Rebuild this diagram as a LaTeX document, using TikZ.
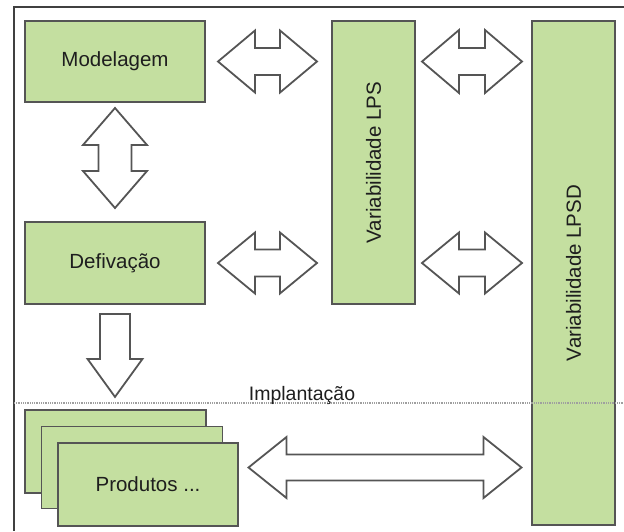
\documentclass[tikz,border=0pt]{standalone}
\usepackage{fontspec}
\setmainfont{Liberation Sans}
\usetikzlibrary{calc}

\definecolor{boxfill}{RGB}{196,223,160}
\definecolor{boxline}{RGB}{85,85,85}
\definecolor{framecol}{RGB}{64,64,64}
\definecolor{txt}{RGB}{30,30,30}

% Symmetric block double arrow: #1 centre, #2 rotation, #3 half length,
% #4 half height, #5 half shaft thickness, #6 head length
\newcommand\dblarrow[6]{%
  \begin{scope}[shift={(#1)}, rotate=#2]
    \draw[blockarrow] (-#3,0) -- (-#3+#6,#4) -- (-#3+#6,#5) -- (#3-#6,#5)
      -- (#3-#6,#4) -- (#3,0) -- (#3-#6,-#4) -- (#3-#6,-#5)
      -- (-#3+#6,-#5) -- (-#3+#6,-#4) -- cycle;
  \end{scope}}

\tikzset{
  label text/.style={inner sep=0pt, text=txt, font=\fontsize{20.5}{24}\selectfont},
  greenbox/.style={label text, draw=boxline, fill=boxfill, line width=1.8pt},
  blockarrow/.style={draw=boxline, fill=white, line width=1.8pt, line join=miter},
  framestyle/.style={draw=framecol, line width=2.4pt},
  divider/.style={draw=gray!75, line width=1.3pt, dash pattern=on 0.9pt off 0.9pt},
}

\begin{document}
\begin{tikzpicture}[x=1pt, y=-1pt]
  \useasboundingbox (0,0) rectangle (624,531);

  % outer frame
  \coordinate (ftr) at (624,7);
  \coordinate (ftl) at (14,7);
  \coordinate (fbl) at (14,531);
  \draw[framestyle] (ftr) -- (ftl) -- (fbl);

  % process boxes
  \node[greenbox, minimum width=180, minimum height=81] (mod) at (115,61.5) {Modelagem};
  \node[greenbox, minimum width=180, minimum height=82] (der) at (115,263) {Defivação};

  % variability columns
  \node[greenbox, minimum width=83, minimum height=283] (lps) at (373.5,162.5) {};
  \node[label text, rotate=90] (lpstext) at (lps.center) {Variabilidade LPS};
  \node[greenbox, minimum width=83, minimum height=504] (lpsd) at (573.5,273) {};
  \node[label text, rotate=90] (lpsdtext) at (lpsd.center) {Variabilidade LPSD};

  % stacked products
  \node[greenbox, minimum width=181, minimum height=83] (prod1) at (115.5,451.5) {};
  \node[greenbox, minimum width=181, minimum height=82] (prod2) at (132,467.5) {};
  \node[greenbox, minimum width=180, minimum height=83] (prod3) at (148,484.5) {Produtos ...};

  % deployment divider
  \coordinate (dl) at (14,403);
  \coordinate (dr) at (624,403);
  \draw[divider] (dl) -- (dr);
  \node[label text, anchor=base, font=\fontsize{19.5}{22}\selectfont]
    (impl) at (302,400.5) {Implantação};

  % block arrows between the boxes
  \dblarrow{$(mod.east)!0.5!(lps.west |- mod.east)+(-1,0)$}{0}{49.5}{31}{13.5}{37}
  \dblarrow{$(lps.east |- mod.east)!0.5!(lpsd.west |- mod.east)+(-1.5,0)$}{0}{50}{31.5}{13.5}{37}
  \dblarrow{$(der.east)!0.5!(lps.west |- der.east)+(-1,0)$}{0}{49.5}{30.5}{13.5}{37}
  \dblarrow{$(lps.east |- der.east)!0.5!(lpsd.west |- der.east)+(-1.5,0)$}{0}{50}{30.5}{13.5}{37}
  \dblarrow{$(mod.south)!0.5!(der.north)+(0,-4)$}{90}{50}{32}{16.5}{37}
  \dblarrow{$(prod3.east |- prod2.center)!0.5!(lpsd.west |- prod2.center)$}{0}{136.5}{30.5}{13}{38}

  % single arrow down from Defivação
  \draw[blockarrow] ($(der.south)+(-15,9)$) -- ++(30,0) -- ++(0,45) -- ++(12.5,0)
    -- ($(der.south)+(0,92)$) -- ($(der.south)+(-27.5,54)$) -- ++(12.5,0) -- cycle;
\end{tikzpicture}
\end{document}
